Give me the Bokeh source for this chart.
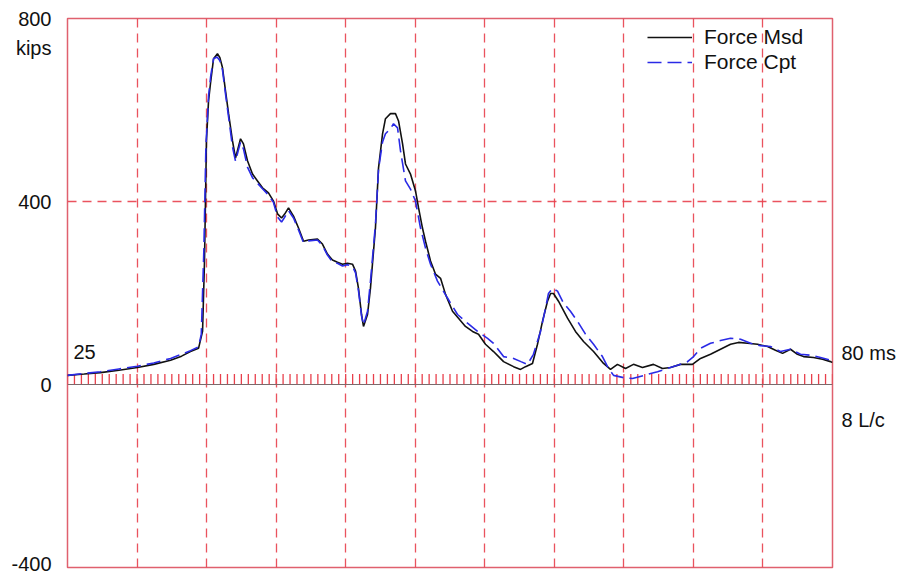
from bokeh.plotting import figure
from bokeh.models import Range1d, FixedTicker, Label, Legend, LegendItem, Span, LinearAxis
from bokeh.embed import file_html
from bokeh.resources import INLINE
import numpy as np

# Measured force (kips) vs time (ms)
t_msd = [25.00, 26.2, 27.37, 28.7, 30.03, 31.2, 32.41, 33.2, 33.84, 34.42, 34.71, 34.85, 34.99,
         35.14, 35.28, 35.50, 35.78, 35.95, 36.14, 36.36, 36.58, 36.86, 37.08, 37.25, 37.44,
         37.65, 37.94, 38.30, 38.66, 39.02, 39.45, 39.81, 40.10, 40.39, 40.6, 40.89, 41.25,
         41.61, 41.97, 42.33, 42.97, 43.33, 43.69, 44.05, 44.41, 44.77, 45.13, 45.49, 45.71,
         45.92, 46.14, 46.28, 46.57, 46.78, 47.14, 47.36, 47.65, 47.86, 48.22, 48.58, 48.80,
         49.09, 49.30, 49.66, 50.02, 50.24, 50.52, 50.74, 51.10, 51.46, 51.82, 52.18, 52.68,
         53.11, 53.61, 54.12, 54.55, 55.05, 55.63, 56.35, 57.07, 57.57, 57.93, 58.43, 58.79,
         59.15, 59.51, 59.73, 59.94, 60.30, 60.95, 61.52, 62.10, 62.82, 63.54, 64.04, 64.54,
         65.12, 65.69, 66.34, 67.13, 67.78, 68.35, 69.07, 69.93, 70.51, 71.23, 71.95, 72.67,
         73.24, 73.89, 74.61, 75.33, 75.90, 76.41, 76.98, 77.48, 77.92, 78.63, 79.28, 79.86, 80.0]
f_msd = [20, 23, 26, 31, 37, 44, 53, 62, 72, 79, 116, 270, 533,
         620, 658, 712, 723, 715, 693, 642, 592, 533, 495, 515, 537,
         526, 489, 460, 445, 430, 419, 401, 373, 364, 372, 386, 368,
         342, 313, 316, 318, 307, 285, 272, 267, 263, 265, 263, 248,
         210, 153, 127, 153, 210, 342, 473, 548, 581, 592, 592, 576,
         526, 482, 460, 423, 386, 342, 313, 270, 241, 232, 197, 160,
         145, 127, 116, 110, 88, 72, 50, 39, 33, 39, 46, 88,
         138, 182, 199, 199, 182, 145, 116, 94, 72, 46, 33, 44,
         35, 44, 37, 44, 35, 37, 44, 44, 57, 66, 77, 88,
         92, 90, 88, 83, 75, 68, 77, 66, 61, 59, 55, 50, 48]

# Computed force (kips) vs time (ms)
t_cpt = [25.00, 26.2, 27.37, 28.7, 30.03, 31.2, 32.41, 33.2, 33.84, 34.42, 34.62, 34.80, 34.95,
         35.14, 35.30, 35.50, 35.75, 35.95, 36.14, 36.36, 36.58, 36.86, 37.08, 37.25, 37.44,
         37.65, 37.94, 38.30, 38.66, 39.02, 39.45, 39.81, 40.10, 40.39, 40.6, 40.89, 41.25,
         41.61, 41.97, 42.33, 42.97, 43.33, 43.69, 44.05, 44.41, 44.77, 45.13, 45.49, 45.71,
         45.92, 46.14, 46.28, 46.57, 46.78, 47.14, 47.36, 47.65, 47.86, 48.22, 48.44, 48.73,
         48.94, 49.30, 49.66, 50.02, 50.38, 50.74, 51.10, 51.60, 52.32, 53.04, 53.76, 54.48,
         55.20, 55.63, 56.35, 57.07, 57.6, 58.07, 58.50, 59.01, 59.37, 59.58, 59.87, 60.23,
         60.66, 61.16, 61.67, 62.24, 62.82, 63.46, 63.90, 64.26, 64.97, 65.62, 66.70, 67.42,
         68.14, 68.86, 69.58, 70.01, 70.51, 71.23, 71.95, 72.67, 73.39, 74.11, 74.82, 75.54,
         76.26, 76.98, 77.70, 78.42, 79.14, 79.86, 80.0]
f_cpt = [20, 24, 28, 34, 40, 47, 57, 66, 74, 82, 110, 290, 520,
         630, 675, 712, 716, 708, 688, 635, 585, 520, 488, 508, 530,
         515, 475, 452, 440, 428, 414, 398, 366, 355, 365, 380, 364,
         338, 310, 314, 316, 304, 283, 268, 265, 259, 262, 258, 244,
         205, 150, 130, 160, 225, 350, 470, 530, 548, 559, 570, 561,
         511, 445, 427, 401, 342, 298, 263, 226, 189, 153, 134, 116,
         101, 90, 61, 57, 50, 44, 66, 116, 167, 199, 210, 204,
         178, 160, 138, 110, 88, 61, 35, 20, 15, 13, 22, 28,
         35, 42, 50, 61, 79, 90, 96, 101, 99, 90, 85, 83,
         72, 77, 66, 64, 59, 53, 52]

y_ticks = [-400, 0, 400, 800]
y_unit = "kips"
x_grid = [30, 35, 40, 45, 50, 55, 60, 65, 70, 75]
t_start, t_end = 25, 80
t_unit = "ms"
scale_text = "8 L/c"

FONT = "Liberation Sans"
RED = "#e8404c"
INK = "#111111"

p = figure(width=902, height=576, output_backend="svg", toolbar_location=None,
           x_range=Range1d(t_start, t_end), y_range=Range1d(-400, 800),
           x_axis_location=None, min_border_left=67, min_border_right=70,
           min_border_top=18, min_border_bottom=9)
p.background_fill_color = "white"
p.border_fill_color = "white"
p.outline_line_color = "#e0606e"
p.outline_line_width = 1.5


def label_only(axis, standoff, size):
    axis.axis_line_color = None
    axis.major_tick_line_color = None
    axis.minor_tick_line_color = None
    axis.major_label_standoff = standoff
    axis.major_label_text_font = FONT
    axis.major_label_text_font_size = size
    axis.major_label_text_color = INK


# left axis: force values, with the unit just under the top value;
# the bottom label sits a hair inside so it stays on the canvas
ax = p.yaxis[0]
unit_pos = 736
low_pos = y_ticks[0] + 8
ticks = [low_pos] + y_ticks[1:] + [unit_pos]
ax.ticker = FixedTicker(ticks=ticks)
ax.major_label_overrides = {low_pos: str(y_ticks[0]), unit_pos: y_unit}
label_only(ax, 10, "20px")

# right axis: end time and scale
end_pos, scale_pos = 68, -77
rax = LinearAxis(ticker=FixedTicker(ticks=[end_pos, scale_pos]),
                 major_label_overrides={end_pos: f"{t_end} {t_unit}", scale_pos: scale_text})
label_only(rax, 3, "20px")
p.add_layout(rax, "right")

# grid
p.xgrid.ticker = FixedTicker(ticks=x_grid)
p.xgrid.grid_line_color = RED
p.xgrid.grid_line_dash = "9 6"
p.xgrid.grid_line_width = 1.3
p.xgrid.grid_line_alpha = 0.9
p.ygrid.ticker = FixedTicker(ticks=[400])
p.ygrid.grid_line_color = RED
p.ygrid.grid_line_dash = "9 6"
p.ygrid.grid_line_width = 1.3
p.ygrid.grid_line_alpha = 0.9

# zero line with 0.5 ms time marks
p.add_layout(Span(location=0, dimension="width", line_color="#7a6a6c", line_width=1))
marks = np.arange(t_start, t_end + 0.001, 0.5)
p.segment(x0=marks, y0=0, x1=marks, y1=23, line_color=RED, line_width=1.3)

r_msd = p.line(t_msd, f_msd, line_color=INK, line_width=1.6)
r_cpt = p.line(t_cpt, f_cpt, line_color="#2a2ae6", line_width=1.6, line_dash="14 6")

legend = Legend(items=[LegendItem(label="Force Msd", renderers=[r_msd]),
                       LegendItem(label="Force Cpt", renderers=[r_cpt])],
                location=(580, 493), padding=0, margin=0, spacing=1,
                glyph_width=45, glyph_height=22, label_height=22, label_standoff=12,
                label_text_font=FONT, label_text_font_size="21px",
                label_text_color=INK,
                border_line_color=None, background_fill_alpha=0)
p.add_layout(legend)

p.add_layout(Label(x=t_start, y=72, x_offset=6, text=str(t_start),
                   text_align="left", text_baseline="middle", text_font=FONT,
                   text_font_size="20px", text_color=INK))

open("out.html", "w").write(file_html(p, INLINE))
